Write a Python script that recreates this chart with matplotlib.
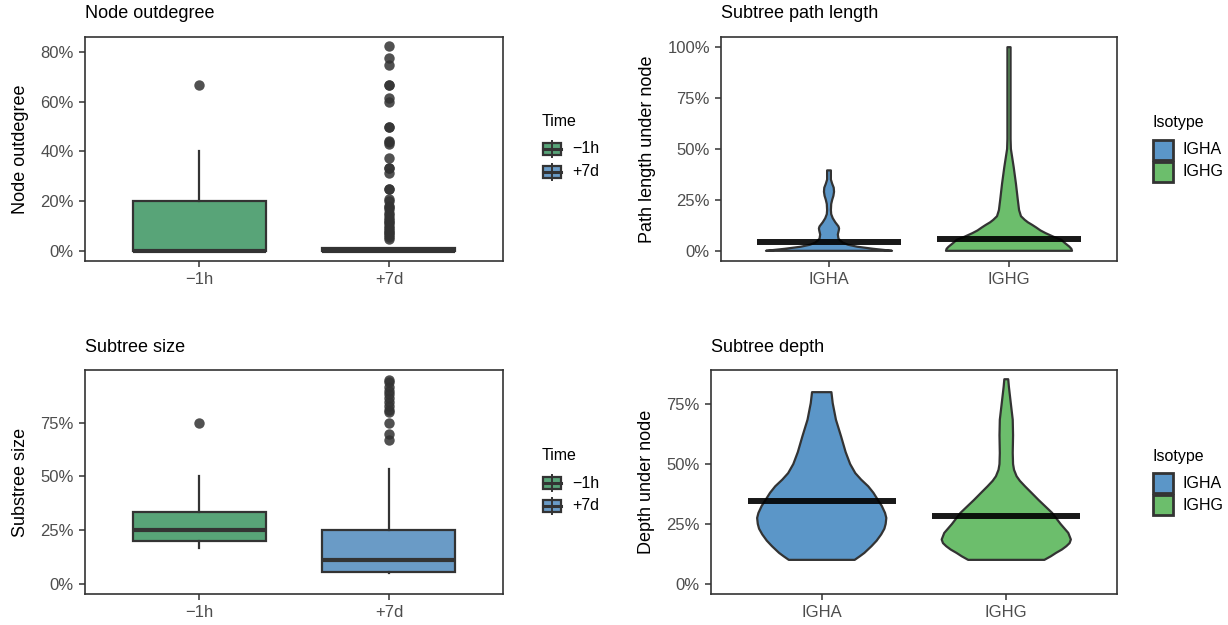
import numpy as np
import matplotlib
matplotlib.use("Agg")
import matplotlib.pyplot as plt
from matplotlib.patches import Rectangle
from matplotlib.lines import Line2D
from matplotlib.ticker import FuncFormatter

plt.rcParams['font.family'] = ['Liberation Sans', 'DejaVu Sans']

# ---- data ----
time_labels = ['\u22121h', '+7d']
time_colors = ['#58A478', '#6A9BC6']
iso_labels = ['IGHA', 'IGHG']
iso_colors = ['#5B96C8', '#6CBE6C']

# node outdegree box stats
outdeg_q1 = [0.0, 0.0]
outdeg_med = [0.0, 0.0]
outdeg_q3 = [0.20, 0.012]
outdeg_lo = [0.0, 0.0]
outdeg_hi = [0.40, 0.012]
outdeg_fliers_1h = [0.667]
outdeg_fliers_7d = [0.048, 0.056, 0.063, 0.071, 0.077, 0.083, 0.091, 0.10, 0.111,
                    0.118, 0.125, 0.133, 0.143, 0.154, 0.167, 0.176, 0.182, 0.20,
                    0.21, 0.25, 0.25, 0.312, 0.333, 0.333, 0.375, 0.429, 0.4375,
                    0.444, 0.50, 0.50, 0.60, 0.615, 0.667, 0.667, 0.75, 0.778, 0.823]

# subtree size box stats
size_q1 = [0.20, 0.057]
size_med = [0.25, 0.111]
size_q3 = [0.333, 0.25]
size_lo = [0.167, 0.049]
size_hi = [0.50, 0.532]
size_fliers_1h = [0.75]
size_fliers_7d = [0.667, 0.698, 0.75, 0.798, 0.809, 0.829, 0.844, 0.864,
                  0.883, 0.898, 0.914, 0.937, 0.949]

# violin profiles: y values and relative half-width
path_igha_y = [0.0, 0.005, 0.01, 0.02, 0.03, 0.04, 0.05, 0.06, 0.08, 0.10, 0.11,
               0.12, 0.14, 0.16, 0.18, 0.20, 0.23, 0.25, 0.27, 0.29, 0.31, 0.33,
               0.35, 0.37, 0.395]
path_igha_w = [1.0, 0.85, 0.70, 0.45, 0.30, 0.22, 0.18, 0.15, 0.14, 0.155, 0.16,
               0.15, 0.10, 0.06, 0.035, 0.03, 0.035, 0.05, 0.07, 0.08, 0.075, 0.05,
               0.03, 0.03, 0.03]
path_ighg_y = [0.0, 0.01, 0.02, 0.03, 0.04, 0.054, 0.07, 0.087, 0.10, 0.115, 0.127,
               0.14, 0.152, 0.17, 0.20, 0.25, 0.33, 0.41, 0.46, 0.50, 0.55, 0.75, 1.0]
path_ighg_w = [1.0, 0.99, 0.96, 0.92, 0.88, 0.83, 0.70, 0.58, 0.50, 0.43, 0.37,
               0.30, 0.25, 0.19, 0.16, 0.14, 0.11, 0.075, 0.05, 0.03, 0.025, 0.025, 0.025]
path_med = [0.044, 0.057]

depth_igha_y = [0.10, 0.115, 0.129, 0.157, 0.18, 0.206, 0.23, 0.25, 0.275, 0.296,
                0.325, 0.35, 0.38, 0.407, 0.435, 0.462, 0.50, 0.55, 0.615, 0.685,
                0.754, 0.80]
depth_igha_w = [0.51, 0.59, 0.66, 0.77, 0.85, 0.92, 0.97, 0.99, 1.0, 0.98, 0.93,
                0.87, 0.80, 0.72, 0.61, 0.52, 0.44, 0.37, 0.30, 0.22, 0.17, 0.15]
depth_ighg_y = [0.10, 0.115, 0.129, 0.143, 0.157, 0.17, 0.185, 0.2125, 0.25, 0.296,
                0.35, 0.38, 0.407, 0.43, 0.449, 0.476, 0.50, 0.546, 0.62, 0.685,
                0.754, 0.824, 0.854]
depth_ighg_w = [0.59, 0.69, 0.77, 0.86, 0.93, 0.98, 1.0, 0.96, 0.84, 0.71, 0.50,
                0.39, 0.29, 0.21, 0.16, 0.12, 0.105, 0.10, 0.105, 0.10, 0.07, 0.04, 0.03]
depth_med = [0.344, 0.283]

# ---- layout ----
W, H = 1228, 625
fig = plt.figure(figsize=(W / 100, H / 100), dpi=100)
dark = '#333333'
pct = FuncFormatter(lambda v, p: f'{v * 100:.0f}%')


def add_ax(x0, y0, x1, y1):
    return fig.add_axes([x0 / W, 1 - y1 / H, (x1 - x0) / W, (y1 - y0) / H])


def style(ax, title, ylabel, xlabels, yticks, ylim, title_xy):
    ax.set_xlim(0.4, 2.6)
    ax.set_ylim(*ylim)
    ax.set_xticks([1, 2])
    ax.set_xticklabels(xlabels)
    ax.set_yticks(yticks)
    ax.yaxis.set_major_formatter(pct)
    ax.set_ylabel(ylabel, fontsize=13, color='black', labelpad=8)
    ax.tick_params(colors=dark, labelcolor='#4D4D4D', labelsize=12,
                   length=4, width=1.1, pad=4)
    for s in ax.spines.values():
        s.set_color(dark)
        s.set_linewidth(1.2)
    fig.text(title_xy[0] / W, 1 - title_xy[1] / H, title, fontsize=13,
             ha='left', va='center')


def boxes(ax, q1, med, q3, lo, hi, fliers):
    stats = []
    for i in range(2):
        stats.append(dict(q1=q1[i], med=med[i], q3=q3[i], whislo=lo[i],
                          whishi=hi[i], fliers=fliers[i]))
    bp = ax.bxp(stats, positions=[1, 2], widths=0.7, patch_artist=True,
                showcaps=False,
                boxprops=dict(edgecolor=dark, linewidth=1.6),
                medianprops=dict(color=dark, linewidth=3, solid_capstyle='butt'),
                whiskerprops=dict(color=dark, linewidth=1.6),
                flierprops=dict(marker='o', markerfacecolor=dark,
                                markeredgecolor='none', markersize=7.5, alpha=0.85))
    for patch, c in zip(bp['boxes'], time_colors):
        patch.set_facecolor(c)


def violins(ax, profiles, meds):
    for i, (ys, ws) in enumerate(profiles):
        pos = i + 1
        ys = np.array(ys)
        hw = np.array(ws) * 0.35
        xs = np.concatenate([pos - hw, (pos + hw)[::-1]])
        yy = np.concatenate([ys, ys[::-1]])
        ax.fill(xs, yy, facecolor=iso_colors[i], edgecolor=dark, linewidth=1.6,
                joinstyle='round', zorder=2)
        ax.plot([pos - 0.4, pos + 0.4], [meds[i], meds[i]], color='black',
                linewidth=4.3, alpha=0.9, solid_capstyle='butt', zorder=3)


def time_legend(x, y_title):
    fig.text(x / W, 1 - y_title / H, 'Time', fontsize=11.5, ha='left', va='center')
    for i, (lab, c) in enumerate(zip(time_labels, time_colors)):
        yc = y_title + 27 + 23 * i
        fig.add_artist(Line2D([(x + 10) / W] * 2, [1 - (yc - 8) / H, 1 - (yc + 8) / H],
                              color=dark, linewidth=1.4))
        fig.add_artist(Rectangle(((x + 1) / W, 1 - (yc + 6) / H), 18 / W, 12 / H,
                                 facecolor=c, edgecolor=dark, linewidth=1.6))
        fig.add_artist(Line2D([(x + 1) / W, (x + 19) / W], [1 - yc / H] * 2,
                              color=dark, linewidth=2.2))
        fig.text((x + 30) / W, 1 - yc / H, lab, fontsize=11.5, ha='left', va='center')


def iso_legend(x, y_title):
    fig.text(x / W, 1 - y_title / H, 'Isotype', fontsize=11.5, ha='left', va='center')
    for i, (lab, c) in enumerate(zip(iso_labels, iso_colors)):
        yc = y_title + 27 + 22 * i
        fig.add_artist(Rectangle(((x + 1) / W, 1 - (yc + 10) / H), 20 / W, 20 / H,
                                 facecolor=c, edgecolor=dark, linewidth=2))
        fig.text((x + 31) / W, 1 - yc / H, lab, fontsize=11.5, ha='left', va='center')


# top-left: node outdegree
ax1 = add_ax(85, 37, 503, 261)
boxes(ax1, outdeg_q1, outdeg_med, outdeg_q3, outdeg_lo, outdeg_hi,
      [outdeg_fliers_1h, outdeg_fliers_7d])
style(ax1, 'Node outdegree', 'Node outdegree', time_labels,
      [0, 0.2, 0.4, 0.6, 0.8], (-0.041, 0.861), (85, 14))

# top-right: subtree path length
ax2 = add_ax(721, 37, 1117, 261)
violins(ax2, [(path_igha_y, path_igha_w), (path_ighg_y, path_ighg_w)], path_med)
style(ax2, 'Subtree path length', 'Path length under node', iso_labels,
      [0, 0.25, 0.5, 0.75, 1.0], (-0.05, 1.05), (721, 14))

# bottom-left: subtree size
ax3 = add_ax(85, 370, 503, 594)
boxes(ax3, size_q1, size_med, size_q3, size_lo, size_hi,
      [size_fliers_1h, size_fliers_7d])
style(ax3, 'Subtree size', 'Substree size', time_labels,
      [0, 0.25, 0.5, 0.75], (-0.047, 0.994), (85, 347))

# bottom-right: subtree depth
ax4 = add_ax(711, 370, 1117, 594)
violins(ax4, [(depth_igha_y, depth_igha_w), (depth_ighg_y, depth_ighg_w)], depth_med)
style(ax4, 'Subtree depth', 'Depth under node', iso_labels,
      [0, 0.25, 0.5, 0.75], (-0.0425, 0.8925), (711, 347))

time_legend(542, 122)
time_legend(542, 456)
iso_legend(1152, 123)
iso_legend(1152, 456)

fig.savefig('out.png', dpi=100)
